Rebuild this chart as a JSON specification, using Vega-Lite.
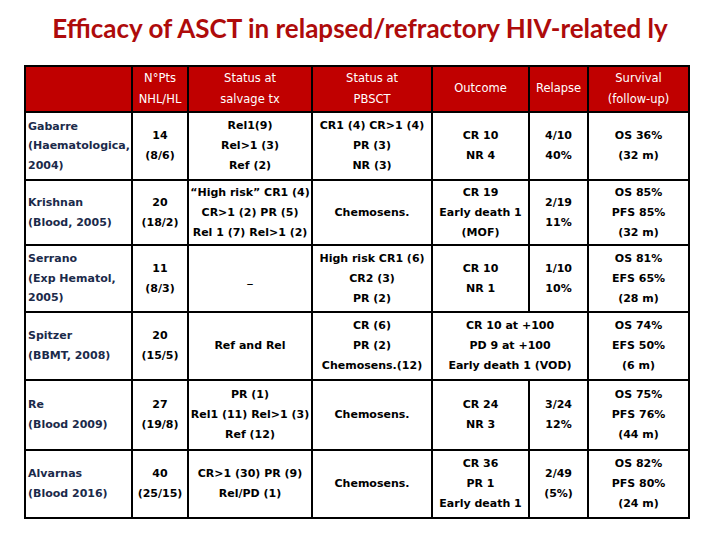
{
  "$schema": "https://vega.github.io/schema/vega-lite/v6.json",
  "width": 720,
  "height": 480,
  "autosize": {"type": "none"},
  "padding": {"top": 60, "left": 0, "right": 0, "bottom": 0},
  "background": "white",
  "config": {"view": {"stroke": null}},
  "title": {
    "text": "Efficacy of ASCT in relapsed/refractory HIV-related ly",
    "font": "Lato",
    "fontSize": 26,
    "fontWeight": "bold",
    "color": "#AE0B0B",
    "anchor": "middle",
    "baseline": "bottom",
    "offset": -9
  },
  "datasets": {
    "cols": [
      {"c": "C0", "left": 25, "right": 132, "mid": 78.5},
      {"c": "C1", "left": 132, "right": 188, "mid": 160},
      {"c": "C2", "left": 188, "right": 312, "mid": 250},
      {"c": "C3", "left": 312, "right": 432, "mid": 372},
      {"c": "C4", "left": 432, "right": 529, "mid": 480.5},
      {"c": "C5", "left": 529, "right": 588, "mid": 558.5},
      {"c": "C45", "left": 432, "right": 588, "mid": 510},
      {"c": "C6", "left": 588, "right": 689, "mid": 638.5}
    ],
    "rows": [
      {"r": "H", "top": 66, "bottom": 112, "mid": 89},
      {"r": "R1", "top": 112, "bottom": 180, "mid": 146},
      {"r": "R2", "top": 180, "bottom": 245, "mid": 212.5},
      {"r": "R3", "top": 245, "bottom": 312, "mid": 278.5},
      {"r": "R4", "top": 312, "bottom": 380, "mid": 346},
      {"r": "R5", "top": 380, "bottom": 450, "mid": 415},
      {"r": "R6", "top": 450, "bottom": 518, "mid": 484}
    ],
    "cells": [
      {"row": "H", "col": "C0", "text": ""},
      {"row": "H", "col": "C1", "text": "N°Pts\nNHL/HL"},
      {"row": "H", "col": "C2", "text": "Status at\nsalvage tx"},
      {"row": "H", "col": "C3", "text": "Status at\nPBSCT"},
      {"row": "H", "col": "C4", "text": "Outcome"},
      {"row": "H", "col": "C5", "text": "Relapse"},
      {"row": "H", "col": "C6", "text": "Survival\n(follow-up)"},

      {"row": "R1", "col": "C0", "text": "Gabarre\n(Haematologica,\n2004)"},
      {"row": "R1", "col": "C1", "text": "14\n(8/6)"},
      {"row": "R1", "col": "C2", "text": "Rel1(9)\nRel>1 (3)\nRef (2)"},
      {"row": "R1", "col": "C3", "text": "CR1 (4) CR>1 (4)\nPR (3)\nNR (3)"},
      {"row": "R1", "col": "C4", "text": "CR 10\nNR 4"},
      {"row": "R1", "col": "C5", "text": "4/10\n40%"},
      {"row": "R1", "col": "C6", "text": "OS 36%\n(32 m)"},

      {"row": "R2", "col": "C0", "text": "Krishnan\n(Blood, 2005)"},
      {"row": "R2", "col": "C1", "text": "20\n(18/2)"},
      {"row": "R2", "col": "C2", "text": "“High risk” CR1 (4)\nCR>1 (2) PR (5)\nRel 1 (7) Rel>1 (2)"},
      {"row": "R2", "col": "C3", "text": "Chemosens."},
      {"row": "R2", "col": "C4", "text": "CR 19\nEarly death 1\n(MOF)"},
      {"row": "R2", "col": "C5", "text": "2/19\n11%"},
      {"row": "R2", "col": "C6", "text": "OS 85%\nPFS 85%\n(32 m)"},

      {"row": "R3", "col": "C0", "text": "Serrano\n(Exp Hematol,\n2005)"},
      {"row": "R3", "col": "C1", "text": "11\n(8/3)"},
      {"row": "R3", "col": "C2", "text": "_"},
      {"row": "R3", "col": "C3", "text": "High risk CR1 (6)\nCR2 (3)\nPR (2)"},
      {"row": "R3", "col": "C4", "text": "CR 10\nNR 1"},
      {"row": "R3", "col": "C5", "text": "1/10\n10%"},
      {"row": "R3", "col": "C6", "text": "OS 81%\nEFS 65%\n(28 m)"},

      {"row": "R4", "col": "C0", "text": "Spitzer\n(BBMT, 2008)"},
      {"row": "R4", "col": "C1", "text": "20\n(15/5)"},
      {"row": "R4", "col": "C2", "text": "Ref and Rel"},
      {"row": "R4", "col": "C3", "text": "CR (6)\nPR (2)\nChemosens.(12)"},
      {"row": "R4", "col": "C45", "text": "CR 10 at +100\nPD 9 at +100\nEarly death 1 (VOD)"},
      {"row": "R4", "col": "C6", "text": "OS 74%\nEFS 50%\n(6 m)"},

      {"row": "R5", "col": "C0", "text": "Re\n(Blood 2009)"},
      {"row": "R5", "col": "C1", "text": "27\n(19/8)"},
      {"row": "R5", "col": "C2", "text": "PR (1)\nRel1 (11) Rel>1 (3)\nRef (12)"},
      {"row": "R5", "col": "C3", "text": "Chemosens."},
      {"row": "R5", "col": "C4", "text": "CR 24\nNR 3"},
      {"row": "R5", "col": "C5", "text": "3/24\n12%"},
      {"row": "R5", "col": "C6", "text": "OS 75%\nPFS 76%\n(44 m)"},

      {"row": "R6", "col": "C0", "text": "Alvarnas\n(Blood 2016)"},
      {"row": "R6", "col": "C1", "text": "40\n(25/15)"},
      {"row": "R6", "col": "C2", "text": "CR>1 (30) PR (9)\nRel/PD (1)"},
      {"row": "R6", "col": "C3", "text": "Chemosens."},
      {"row": "R6", "col": "C4", "text": "CR 36\nPR 1\nEarly death 1"},
      {"row": "R6", "col": "C5", "text": "2/49\n(5%)"},
      {"row": "R6", "col": "C6", "text": "OS 82%\nPFS 80%\n(24 m)"}
    ]
  },
  "data": {"name": "cells"},
  "transform": [
    {"lookup": "col", "from": {"data": {"name": "cols"}, "key": "c", "fields": ["left", "right", "mid"]}, "as": ["x0", "x1", "xm"]},
    {"lookup": "row", "from": {"data": {"name": "rows"}, "key": "r", "fields": ["top", "bottom", "mid"]}, "as": ["y0", "y1", "ym"]}
  ],
  "encoding": {},
  "layer": [
    {
      "mark": {"type": "rect", "stroke": "black", "strokeWidth": 2},
      "encoding": {
        "x": {"field": "x0", "type": "quantitative", "scale": {"domain": [0, 720], "nice": false, "zero": false}, "axis": null},
        "x2": {"field": "x1"},
        "y": {"field": "y0", "type": "quantitative", "scale": {"domain": [60, 540], "reverse": true, "nice": false, "zero": false}, "axis": null},
        "y2": {"field": "y1"},
        "fill": {"condition": {"test": "datum.row === 'H'", "value": "#C00000"}, "value": "white"}
      }
    },
    {
      "transform": [{"filter": "datum.row === 'H' && split(datum.text, '\\n').length === 1"}],
      "mark": {"type": "text", "lineBreak": "\n", "lineHeight": 21, "align": "center", "baseline": "middle", "font": "DejaVu Sans", "fontSize": 11.5, "color": "white"},
      "encoding": {
        "x": {"field": "xm", "type": "quantitative"},
        "y": {"field": "ym", "type": "quantitative"},
        "text": {"field": "text"}
      }
    },
    {
      "transform": [{"filter": "datum.row === 'H' && split(datum.text, '\\n').length === 2"}],
      "mark": {"type": "text", "lineBreak": "\n", "lineHeight": 21, "dy": -10.5, "align": "center", "baseline": "middle", "font": "DejaVu Sans", "fontSize": 11.5, "color": "white"},
      "encoding": {
        "x": {"field": "xm", "type": "quantitative"},
        "y": {"field": "ym", "type": "quantitative"},
        "text": {"field": "text"}
      }
    },
    {
      "transform": [{"filter": "datum.row !== 'H' && datum.col === 'C0' && split(datum.text, '\\n').length === 2"}],
      "mark": {"type": "text", "lineBreak": "\n", "lineHeight": 20, "dy": -10, "align": "left", "baseline": "middle", "dx": 3, "font": "DejaVu Sans", "fontWeight": "bold", "fontSize": 11, "color": "#1B2A4A"},
      "encoding": {
        "x": {"field": "x0", "type": "quantitative"},
        "y": {"field": "ym", "type": "quantitative"},
        "text": {"field": "text"}
      }
    },
    {
      "transform": [{"filter": "datum.row !== 'H' && datum.col === 'C0' && split(datum.text, '\\n').length === 3"}],
      "mark": {"type": "text", "lineBreak": "\n", "lineHeight": 19.5, "dy": -19.5, "align": "left", "baseline": "middle", "dx": 3, "font": "DejaVu Sans", "fontWeight": "bold", "fontSize": 11, "color": "#1B2A4A"},
      "encoding": {
        "x": {"field": "x0", "type": "quantitative"},
        "y": {"field": "ym", "type": "quantitative"},
        "text": {"field": "text"}
      }
    },
    {
      "transform": [{"filter": "datum.row !== 'H' && datum.col !== 'C0' && split(datum.text, '\\n').length === 1"}],
      "mark": {"type": "text", "lineBreak": "\n", "lineHeight": 20, "align": "center", "baseline": "middle", "font": "DejaVu Sans", "fontWeight": "bold", "fontSize": 11, "color": "black"},
      "encoding": {
        "x": {"field": "xm", "type": "quantitative"},
        "y": {"field": "ym", "type": "quantitative"},
        "text": {"field": "text"}
      }
    },
    {
      "transform": [{"filter": "datum.row !== 'H' && datum.col !== 'C0' && split(datum.text, '\\n').length === 2"}],
      "mark": {"type": "text", "lineBreak": "\n", "lineHeight": 20, "dy": -10, "align": "center", "baseline": "middle", "font": "DejaVu Sans", "fontWeight": "bold", "fontSize": 11, "color": "black"},
      "encoding": {
        "x": {"field": "xm", "type": "quantitative"},
        "y": {"field": "ym", "type": "quantitative"},
        "text": {"field": "text"}
      }
    },
    {
      "transform": [{"filter": "datum.row !== 'H' && datum.col !== 'C0' && split(datum.text, '\\n').length === 3"}],
      "mark": {"type": "text", "lineBreak": "\n", "lineHeight": 20, "dy": -20, "align": "center", "baseline": "middle", "font": "DejaVu Sans", "fontWeight": "bold", "fontSize": 11, "color": "black"},
      "encoding": {
        "x": {"field": "xm", "type": "quantitative"},
        "y": {"field": "ym", "type": "quantitative"},
        "text": {"field": "text"}
      }
    }
  ]
}
